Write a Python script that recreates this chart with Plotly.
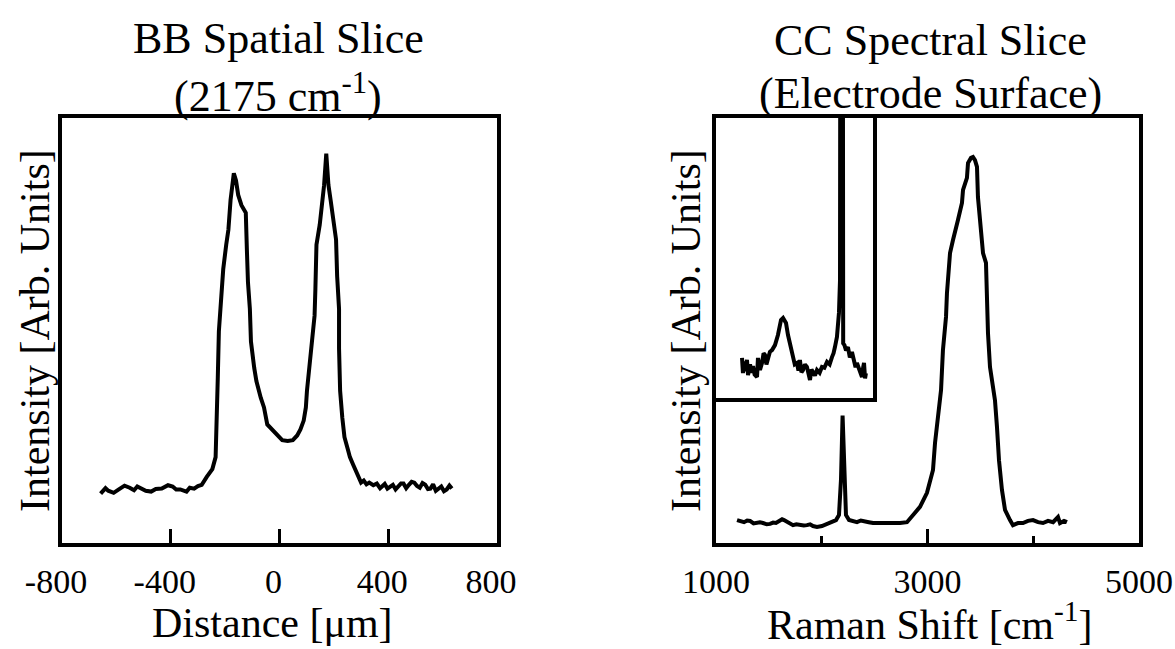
import plotly.graph_objects as go

# ---- BB spatial slice at 2175 cm-1 ----
distance_um = [-658, -640, -630, -610, -591, -570, -551, -535, -523, -505, -492, -472, -455,
               -433, -410, -393, -380, -365, -342, -330, -314, -300, -286, -267, -247, -235,
               -231, -227, -223, -215, -207, -196, -188, -180, -172, -168, -160, -152, -140,
               -124, -120, -116, -109, -105, -93, -85, -69, -57, -45, -26, -6, 10, 30, 49,
               65, 77, 89, 97, 101, 109, 113, 121, 129, 132, 136, 148, 156, 164, 172, 180,
               188, 200, 208, 212, 219, 219, 223, 231, 239, 251, 259, 271, 279, 291, 300,
               310, 320, 330, 345, 358, 370, 377, 387, 397, 407, 417, 427, 437, 447, 456,
               466, 476, 486, 496, 506, 516, 526, 536, 546, 555, 565, 575, 585, 595, 605,
               615, 625, 634]
bb_intensity = [11.6, 12.9, 12.3, 11.8, 12.6, 13.5, 13.0, 12.4, 13.3, 12.8, 12.3, 12.1, 12.7,
                12.8, 13.6, 13.3, 12.6, 12.6, 12.1, 13.0, 12.8, 13.4, 13.7, 15.6, 17.4, 20.2,
                27.2, 38.8, 49.8, 57.4, 64.4, 70.2, 73.7, 80.7, 85.8, 87.0, 85.3, 81.9, 79.5,
                77.7, 69.1, 61.4, 55.1, 47.4, 41.2, 38.1, 34.2, 31.9, 27.9, 26.5, 25.3, 24.2,
                24.0, 24.2, 25.3, 26.7, 28.8, 31.9, 35.8, 41.2, 45.1, 49.3, 53.5, 59.8, 70.2,
                74.9, 79.5, 84.2, 91.6, 84.2, 80.7, 76.0, 71.4, 62.8, 55.1, 45.8, 35.8, 29.5,
                24.9, 22.1, 20.2, 18.4, 17.2, 15.1, 14.2, 14.7, 13.8, 14.2, 13.6, 14.0, 12.9,
                13.3, 13.9, 12.8, 13.2, 13.7, 12.6, 13.3, 14.0, 14.0, 12.9, 13.7, 14.4, 14.2,
                13.4, 13.0, 14.1, 13.7, 12.7, 12.8, 13.8, 12.3, 12.9, 13.3, 12.2, 12.6, 13.5,
                12.8]

# ---- CC spectral slice at the electrode surface ----
raman_shift = [1199, 1230, 1265, 1295, 1322, 1355, 1388, 1415, 1444, 1480, 1511, 1540, 1567,
               1605, 1625, 1643, 1681, 1728, 1760, 1794, 1830, 1860, 1890, 1917, 1955, 2002,
               2050, 2097, 2135, 2163, 2182, 2197, 2212, 2229, 2258, 2295, 2333, 2370, 2409,
               2445, 2485, 2551, 2600, 2645, 2700, 2740, 2806, 2863, 2929, 2995, 3024, 3052,
               3071, 3099, 3128, 3146, 3175, 3184, 3194, 3213, 3241, 3260, 3288, 3326, 3336,
               3373, 3383, 3411, 3430, 3449, 3468, 3477, 3496, 3525, 3553, 3563, 3572, 3591,
               3638, 3657, 3676, 3704, 3733, 3780, 3808, 3856, 3903, 3950, 3998, 4045, 4092,
               4140, 4187, 4234, 4253, 4291, 4319]
cc_intensity = [5.4, 5.1, 4.9, 5.3, 5.2, 4.6, 4.7, 4.9, 4.7, 4.4, 4.5, 4.8, 4.7, 5.2, 5.6,
                5.4, 4.9, 4.2, 4.4, 4.2, 4.1, 4.2, 4.4, 4.0, 3.8, 4.0, 4.5, 4.9, 5.4, 6.6,
                15.0, 30.0, 16.0, 6.6, 5.4, 5.2, 4.9, 5.3, 5.2, 4.9, 4.7, 4.7, 4.6, 4.7, 4.8,
                4.7, 4.9, 6.6, 8.5, 11.8, 14.8, 17.2, 23.5, 29.6, 36.0, 45.4, 53.2, 58.8, 63.5,
                68.2, 71.3, 73.6, 76.0, 80.0, 83.1, 85.9, 89.4, 90.6, 90.8, 90.1, 88.5, 81.4,
                75.3, 68.2, 65.9, 57.2, 49.4, 41.4, 33.6, 27.3, 19.5, 12.5, 7.8, 5.4, 4.2,
                4.7, 4.7, 5.2, 5.4, 4.9, 4.7, 5.2, 4.9, 6.1, 4.7, 5.2, 4.9]

# ---- enlarged view of the low-frequency region (inset) ----
inset_shift = [1246, 1255, 1265, 1274, 1293, 1303, 1322, 1335, 1350, 1365, 1388, 1397, 1416,
               1435, 1450, 1463, 1477, 1492, 1510, 1530, 1558, 1586, 1615, 1634, 1662, 1681,
               1700, 1728, 1745, 1766, 1780, 1794, 1808, 1823, 1841, 1860, 1875, 1889, 1903,
               1917, 1936, 1955, 1980, 2002, 2025, 2050, 2075, 2097, 2112, 2125, 2144, 2163,
               2173, 2188, 2194, 2203, 2215, 2230, 2248, 2266, 2286, 2305, 2320, 2333, 2350,
               2362, 2381, 2392, 2400, 2410, 2418]
inset_intensity = [14.3, 8.9, 13.1, 9.6, 13.6, 8.2, 12.0, 9.0, 11.4, 8.4, 7.5, 14.3, 10.0,
                   12.5, 16.0, 15.4, 12.0, 13.6, 16.5, 17.1, 18.9, 22.5, 27.9, 28.6, 26.8,
                   22.5, 19.6, 14.6, 12.0, 12.5, 9.8, 13.6, 9.2, 10.0, 12.0, 11.1, 8.0, 6.4,
                   10.2, 9.3, 8.0, 10.0, 9.0, 11.1, 10.8, 12.9, 12.0, 14.6, 16.0, 18.2, 21.8,
                   30.4, 42.0, 600.0, 22.0, 19.5, 18.9, 17.0, 18.2, 14.5, 16.4, 13.6, 11.0,
                   12.5, 10.5, 10.0, 7.5, 11.0, 12.5, 7.0, 8.9]

FONT = "Liberation Serif, Times New Roman, serif"
W, H = 1175, 649


def px(x):
    return x / W


def py(y):
    return 1 - y / H


fig = go.Figure()

line_style = dict(color="black", width=4)
fig.add_trace(go.Scatter(x=distance_um, y=bb_intensity, mode="lines", line=line_style,
                         xaxis="x", yaxis="y", showlegend=False))
fig.add_trace(go.Scatter(x=raman_shift, y=cc_intensity, mode="lines", line=line_style,
                         xaxis="x2", yaxis="y2", showlegend=False))
fig.add_trace(go.Scatter(x=inset_shift, y=inset_intensity, mode="lines",
                         line=dict(color="black", width=4),
                         xaxis="x3", yaxis="y3", showlegend=False))

tick_font = dict(family=FONT, size=34, color="black")
box = dict(showline=True, linecolor="black", linewidth=4, mirror=True,
           showgrid=False, zeroline=False, automargin=False)

y_dom = [py(543), py(118)]

fig.update_layout(
    width=W, height=H,
    margin=dict(l=0, r=0, t=0, b=0, autoexpand=False),
    paper_bgcolor="white", plot_bgcolor="white",
    xaxis=dict(domain=[px(62), px(497)], range=[-800, 800], tickmode="array",
               tickvals=[-800, -400, 0, 400, 800],
               ticktext=["-800", "-400", "0", "400", "800"],
               ticks="inside", ticklen=14, tickwidth=3, tickcolor="black",
               tickfont=tick_font, ticklabelstandoff=5, ticklabelshift=-6,
               anchor="y", **box),
    yaxis=dict(domain=y_dom, range=[0, 100], showticklabels=False, ticks="",
               anchor="x", **box),
    xaxis2=dict(domain=[px(716), px(1139)], range=[1000, 5000], tickmode="array",
                tickvals=[1000, 3000, 5000], ticktext=["1000", "3000", "5000"],
                ticks="inside", ticklen=14, tickwidth=3, tickcolor="black",
                minor=dict(tickvals=[2000, 4000], ticks="inside", ticklen=7,
                           tickwidth=3, tickcolor="black"),
                tickfont=tick_font, ticklabelstandoff=5, anchor="y2", **box),
    yaxis2=dict(domain=y_dom, range=[0, 100], showticklabels=False, ticks="",
                anchor="x2", **box),
    xaxis3=dict(domain=[px(716), px(873)], range=[1000, 2485], showticklabels=False,
                ticks="", anchor="y3", **box),
    yaxis3=dict(domain=[py(398), py(118)], range=[0, 100], showticklabels=False,
                ticks="", anchor="x3", **box),
)

title_font = dict(family=FONT, size=44, color="black")
axis_font = dict(family=FONT, size=42, color="black")

annotations = [
    ("BB Spatial Slice", 278, 38, title_font, 0),
    ("(2175 cm<sup>-1</sup>)", 278, 93, title_font, 0),
    ("CC Spectral Slice", 930, 40, title_font, 0),
    ("(Electrode Surface)", 930, 93, title_font, 0),
    ("Distance [\u03bcm]", 272, 623, axis_font, 0),
    ("Raman Shift [cm<sup>-1</sup>]", 929, 621, axis_font, 0),
    ("Intensity [Arb. Units]", 35, 331, axis_font, -90),
    ("Intensity [Arb. Units]", 686, 331, axis_font, -90),
]
for text, x, y, font, angle in annotations:
    fig.add_annotation(text=text, x=px(x), y=py(y), xref="paper", yref="paper",
                       xanchor="center", yanchor="middle", showarrow=False,
                       font=font, textangle=angle, borderpad=0)

fig.write_html("out.html")
